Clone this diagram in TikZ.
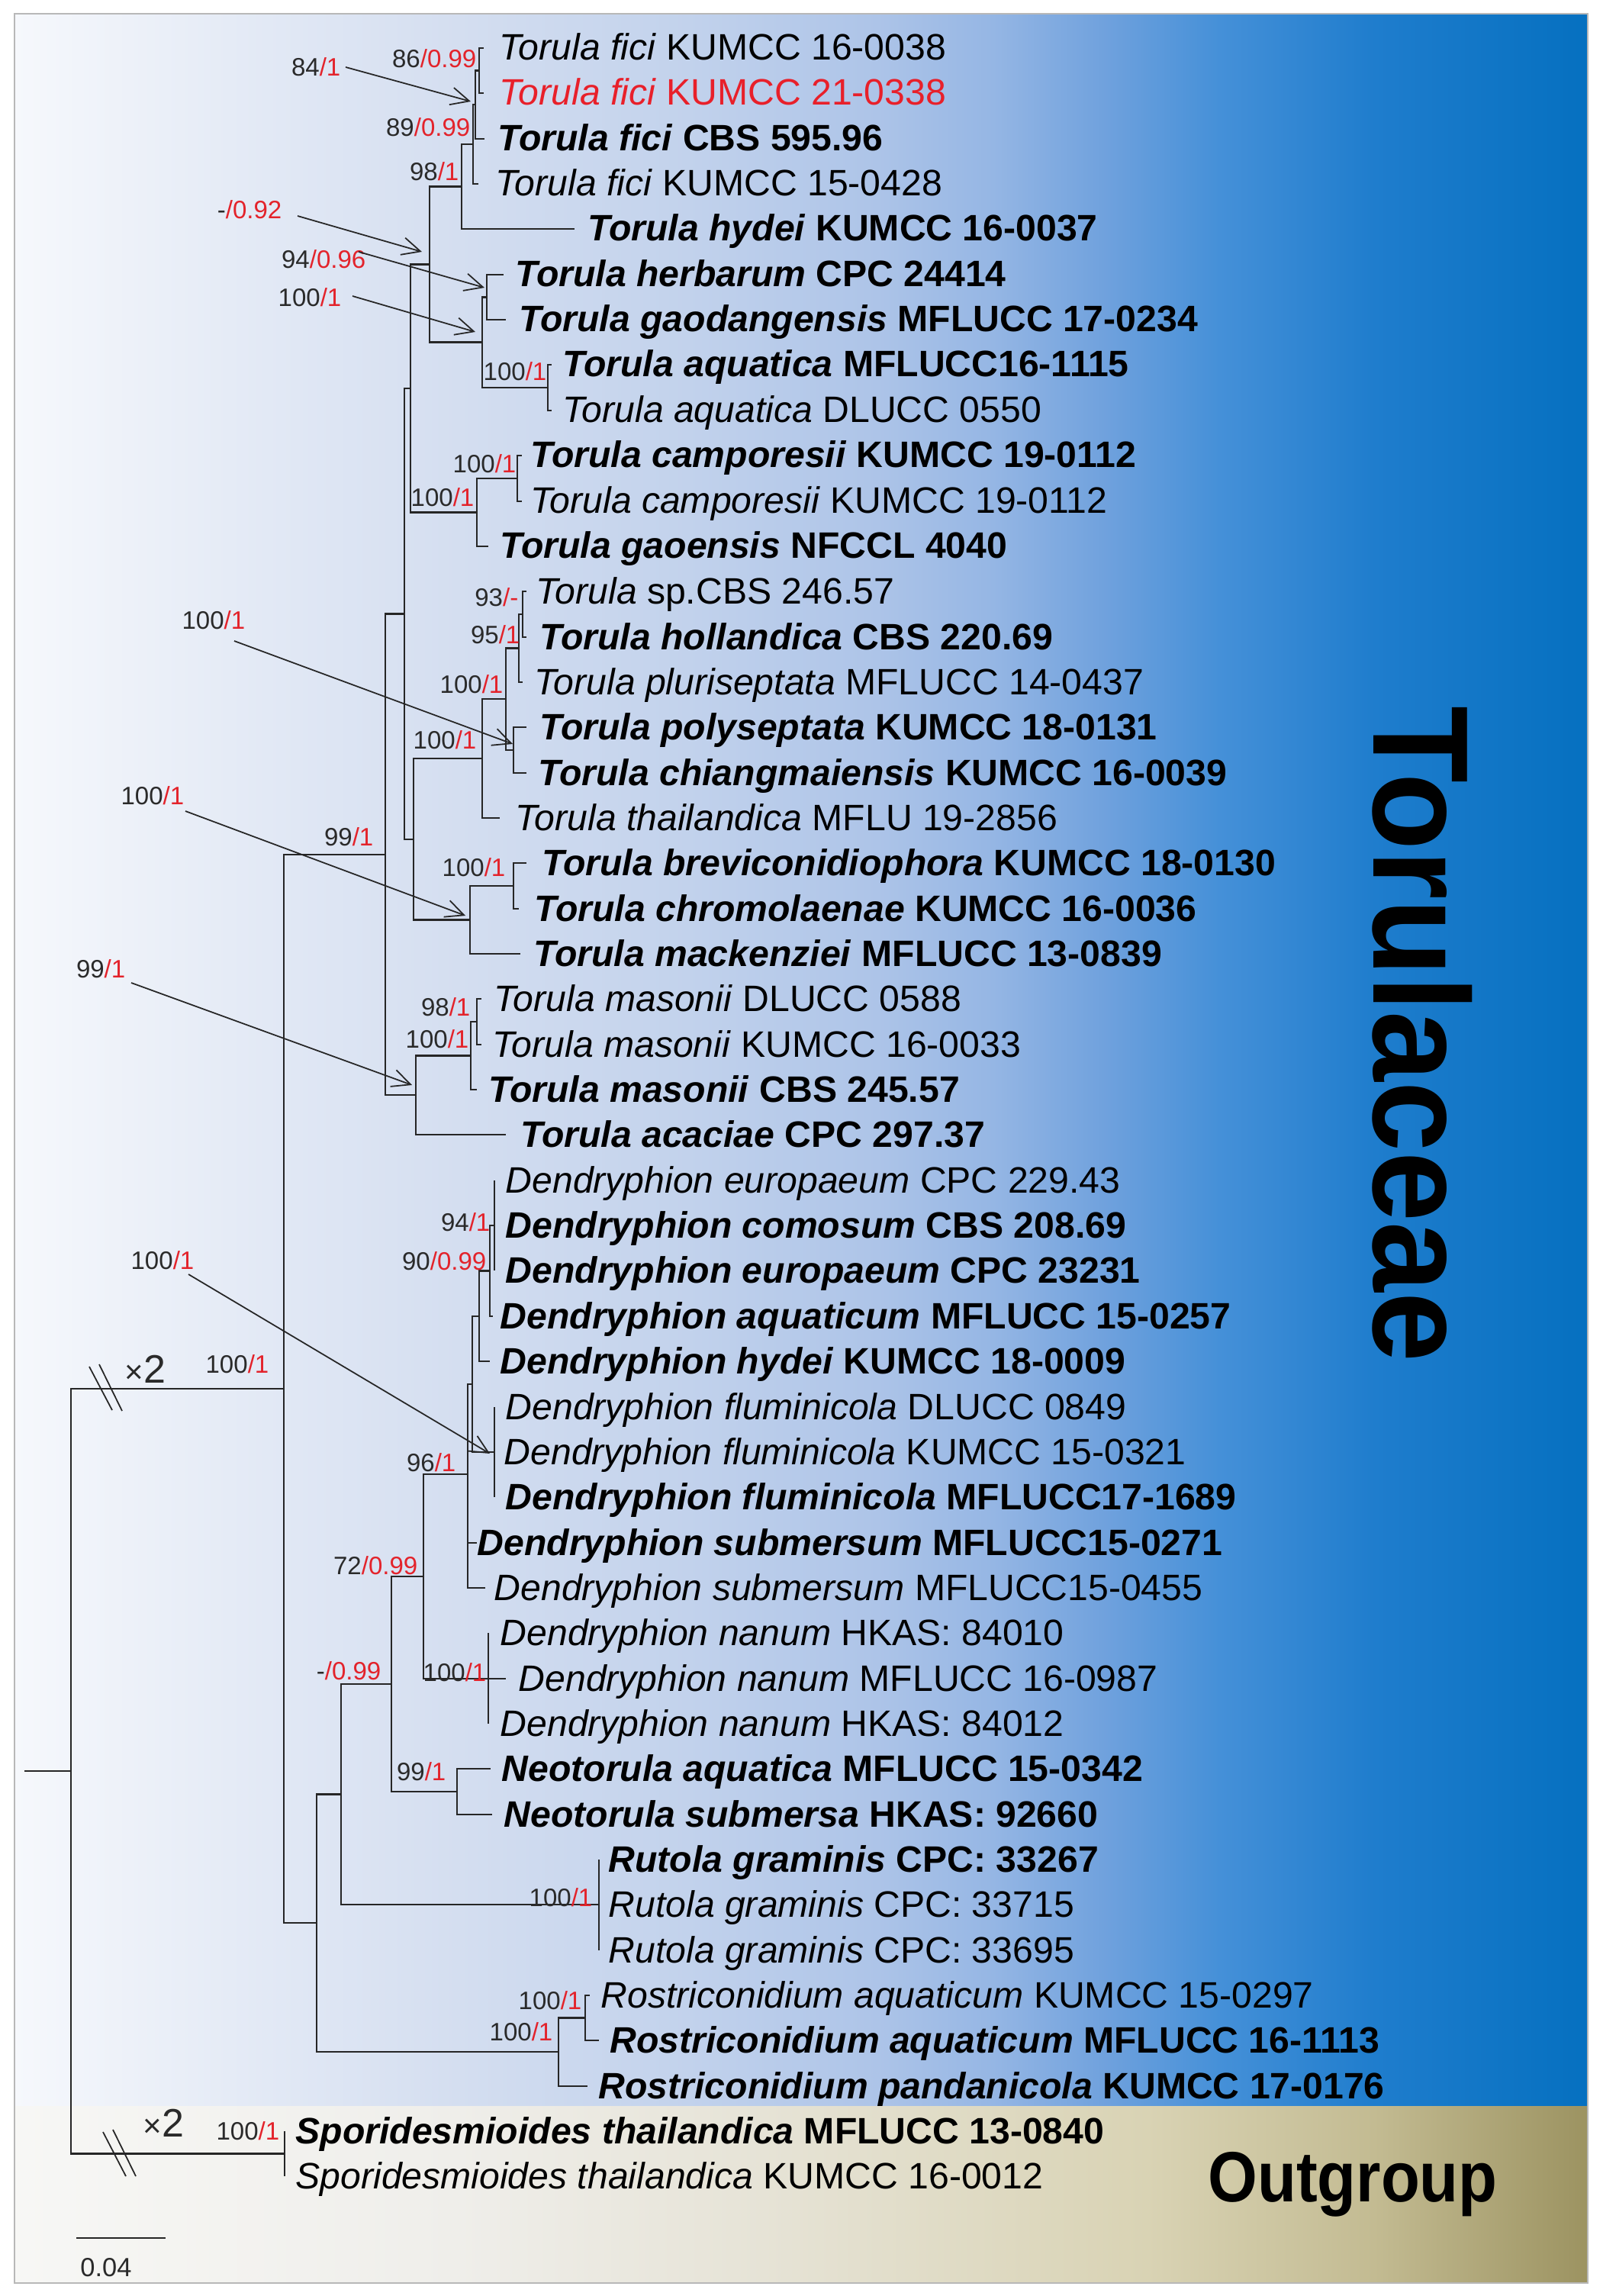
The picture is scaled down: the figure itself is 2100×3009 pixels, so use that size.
\documentclass[tikz,border=0pt]{standalone}
\usepackage{fontspec}
\setmainfont{Liberation Sans}
\usepackage{graphicx}
\usetikzlibrary{arrows.meta,calc}

\definecolor{linec}{HTML}{262626}
\definecolor{supred}{HTML}{E3232B}
\definecolor{supgray}{HTML}{2A2A2A}
\definecolor{redtx}{HTML}{E8202A}
\definecolor{frm}{HTML}{B8B8B8}
% blue background stops
\definecolor{ba}{HTML}{F6F8FC}
\definecolor{bb}{HTML}{E5EBF6}
\definecolor{bc}{HTML}{D4DEF0}
\definecolor{bd}{HTML}{C2D2EC}
\definecolor{be}{HTML}{ADC4E8}
\definecolor{bf}{HTML}{95B6E4}
\definecolor{bg}{HTML}{6FA1DD}
\definecolor{bh}{HTML}{4590D8}
\definecolor{bi}{HTML}{1F7DCD}
\definecolor{bj}{HTML}{0570C0}
% khaki background stops
\definecolor{ka}{HTML}{F7F7F5}
\definecolor{kb}{HTML}{EFEEEA}
\definecolor{kc}{HTML}{E6E3D6}
\definecolor{kd}{HTML}{D9D3B4}
\definecolor{ke}{HTML}{C3BB92}
\definecolor{kf}{HTML}{9C9361}

\pgfdeclarehorizontalshading{blueshade}{100bp}{color(0bp)=(ba); color(25bp)=(ba); color(31.8bp)=(bb); color(39.1bp)=(bc); color(46.4bp)=(bd); color(52.4bp)=(be); color(56.1bp)=(bf); color(59.7bp)=(bg); color(63.3bp)=(bh); color(68.2bp)=(bi); color(75bp)=(bj); color(100bp)=(bj)}
\pgfdeclarehorizontalshading{khakishade}{100bp}{color(0bp)=(ka); color(25bp)=(ka); color(39.1bp)=(kb); color(48.8bp)=(kc); color(61bp)=(kd); color(68.2bp)=(ke); color(75bp)=(kf); color(100bp)=(kf)}

\newcommand\txf{\fontsize{13.7}{16}\selectfont}
\newcommand\spf{\fontsize{9.4}{11}\selectfont}
\newcommand\suppv[2]{#1\textcolor{supred}{/#2}}
\newcommand\taxon[2]{\textit{#1} #2}
\newcommand\btaxon[2]{\bfseries\textit{#1} #2}
\newcommand\timestwo{{\fontsize{12}{14}\selectfont ×}{\fontsize{14.8}{16}\selectfont 2}}

\begin{document}
\begin{tikzpicture}[x=0.1mm, y=-0.1mm,
  br/.style={line width=0.7pt, draw=linec},
  tx/.style={inner sep=0pt, anchor=base west, font=\txf, text=black},
  sup/.style={inner sep=0pt, anchor=east, font=\spf, text=supgray},
  arr/.style={line width=0.5pt, draw=linec, -{Straight Barb[length=2.4mm, width=2.3mm]}},
  brk/.style={line width=0.5pt, draw=linec}]

% ---------- background ----------
\useasboundingbox (0,0) rectangle (2100,3009);
\fill[white] (0,0) rectangle (2100,3009);
\shade[shading=blueshade] (19,18) rectangle (2081,2760);
\shade[shading=khakishade] (19,2760) rectangle (2081,2992);
\draw[frm, line width=0.5pt] (19,18) rectangle (2081,2992);

% ---------- tips ----------
\coordinate (t1) at (634,63);
\coordinate (t2) at (634,122);
\coordinate (t3) at (635,182);
\coordinate (t4) at (627,241);
\coordinate (t5) at (753,300);
\coordinate (t6) at (660,360);
\coordinate (t7) at (663,419);
\coordinate (t8) at (723,478);
\coordinate (t9) at (723,538);
\coordinate (t10) at (684,597);
\coordinate (t11) at (684,657);
\coordinate (t12) at (640,716);
\coordinate (t13) at (690,775);
\coordinate (t14) at (690,835);
\coordinate (t15) at (685,894);
\coordinate (t16) at (690,953);
\coordinate (t17) at (690,1013);
\coordinate (t18) at (655,1072);
\coordinate (t19) at (690,1131);
\coordinate (t20) at (680,1191);
\coordinate (t21) at (682,1250);
\coordinate (t22) at (631,1309);
\coordinate (t23) at (631,1369);
\coordinate (t24) at (625,1428);
\coordinate (t25) at (663,1487);
\coordinate (t26) at (648,1547);
\coordinate (t27) at (648,1606);
\coordinate (t28) at (648,1665);
\coordinate (t29) at (646,1725);
\coordinate (t30) at (642,1784);
\coordinate (t31) at (648,1844);
\coordinate (t32) at (648,1903);
\coordinate (t33) at (648,1962);
\coordinate (t34) at (625,2022);
\coordinate (t35) at (636,2081);
\coordinate (t36) at (640,2140);
\coordinate (t37) at (663,2200);
\coordinate (t38) at (640,2259);
\coordinate (t39) at (643,2318);
\coordinate (t40) at (645,2378);
\coordinate (t41) at (785,2437);
\coordinate (t42) at (785,2496);
\coordinate (t43) at (785,2556);
\coordinate (t44) at (773,2615);
\coordinate (t45) at (785,2674);
\coordinate (t46) at (770,2734);
\coordinate (t47) at (373,2793);
\coordinate (t48) at (373,2852);

% ---------- internal nodes ----------
\coordinate (n12) at (628,92.5);
\coordinate (n13) at (623,137);
\coordinate (n14) at (620,189);
\coordinate (n15) at (605,244.5);
\coordinate (n67) at (638,389.5);
\coordinate (n89) at (718,508);
\coordinate (n69) at (632,448.7);
\coordinate (nX) at (563,346.6);
\coordinate (n1011) at (678,627);
\coordinate (n1012) at (625,671.5);
\coordinate (nY) at (538,509);
\coordinate (n1314) at (685,805);
\coordinate (n1315) at (680,849.5);
\coordinate (n1617) at (673,983);
\coordinate (nP) at (663,916);
\coordinate (nQ) at (632,994);
\coordinate (n1920) at (673,1161);
\coordinate (n1921) at (616,1205.5);
\coordinate (nW) at (542,1100);
\coordinate (nZ) at (530,804.5);
\coordinate (n2223) at (625,1339);
\coordinate (n2224) at (617,1383.5);
\coordinate (n2225) at (545,1435);
\coordinate (nV) at (505,1120);
\coordinate (n2628) at (648,1606);
\coordinate (n2629) at (642,1665.5);
\coordinate (n2630) at (628,1725);
\coordinate (n3133) at (648,1903);
\coordinate (n2633) at (619,1814);
\coordinate (n96) at (613,1932);
\coordinate (n3638) at (640,2200);
\coordinate (n72) at (555,2066);
\coordinate (n3940) at (599,2348);
\coordinate (n513) at (513,2207);
\coordinate (n4143) at (785,2496);
\coordinate (n447) at (447,2351.5);
\coordinate (n4445) at (767,2644.5);
\coordinate (n4446) at (732,2689);
\coordinate (n415) at (415,2520);
\coordinate (nU) at (372,1820);
\coordinate (n4748) at (373,2822.5);
\coordinate (root) at (93,2321);
\coordinate (rstub) at (32,2321);

% ---------- branches ----------
\foreach \p/\c in {n12/t1,n12/t2,n13/n12,n13/t3,n14/n13,n14/t4,n15/n14,n15/t5,
  n67/t6,n67/t7,n89/t8,n89/t9,n69/n67,n69/n89,nX/n15,nX/n69,
  n1011/t10,n1011/t11,n1012/n1011,n1012/t12,nY/nX,nY/n1012,
  n1314/t13,n1314/t14,n1315/n1314,n1315/t15,n1617/t16,n1617/t17,
  nP/n1315,nP/n1617,nQ/nP,nQ/t18,n1920/t19,n1920/t20,n1921/n1920,n1921/t21,
  nW/nQ,nW/n1921,nZ/nY,nZ/nW,n2223/t22,n2223/t23,n2224/n2223,n2224/t24,
  n2225/n2224,n2225/t25,nV/nZ,nV/n2225,
  n2628/t26,n2628/t27,n2628/t28,n2629/n2628,n2629/t29,n2630/n2629,n2630/t30,
  n3133/t31,n3133/t32,n3133/t33,n2633/n2630,n2633/n3133,
  n96/n2633,n96/t34,n96/t35,n3638/t36,n3638/t37,n3638/t38,n72/n96,n72/n3638,
  n3940/t39,n3940/t40,n513/n72,n513/n3940,n4143/t41,n4143/t42,n4143/t43,
  n447/n513,n447/n4143,n4445/t44,n4445/t45,n4446/n4445,n4446/t46,
  n415/n447,n415/n4446,nU/nV,nU/n415,n4748/t47,n4748/t48,root/nU,root/n4748}
  \draw[br] (\p) |- (\c);
\draw[br] (rstub) -- (root);

% ---------- branch breaks ----------
\coordinate (k1a) at (117,1791); \coordinate (k1b) at (147,1848);
\coordinate (k2a) at (130,1788); \coordinate (k2b) at (160,1849);
\coordinate (k3a) at (135,2794); \coordinate (k3b) at (165,2852);
\coordinate (k4a) at (148,2791); \coordinate (k4b) at (178,2852);
\draw[brk] (k1a) -- (k1b);
\draw[brk] (k2a) -- (k2b);
\draw[brk] (k3a) -- (k3b);
\draw[brk] (k4a) -- (k4b);
\node[inner sep=0pt, anchor=base west, text=supgray] (x2a) at (163,1812) {\timestwo};
\node[inner sep=0pt, anchor=base west, text=supgray] (x2b) at (187,2800) {\timestwo};

% ---------- support values on branches ----------
\node[sup] (s1) at (625,77) {\suppv{86}{0.99}};
\node[sup] (s3) at (617,167) {\suppv{89}{0.99}};
\node[sup] (s4) at (602,225) {\suppv{98}{1}};
\node[sup] (s8) at (717,487) {\suppv{100}{1}};
\node[sup] (s9) at (677,608) {\suppv{100}{1}};
\node[sup] (s10) at (622,652) {\suppv{100}{1}};
\node[sup] (s11) at (680,783) {\suppv{93}{-}};
\node[sup] (s12) at (682,832) {\suppv{95}{1}};
\node[sup] (s13) at (660,897) {\suppv{100}{1}};
\node[sup] (s14) at (625,970) {\suppv{100}{1}};
\node[sup] (s17) at (490,1097) {\suppv{99}{1}};
\node[sup] (s18) at (663,1137) {\suppv{100}{1}};
\node[sup] (s19) at (617,1320) {\suppv{98}{1}};
\node[sup] (s20) at (615,1362) {\suppv{100}{1}};
\node[sup] (s22) at (643,1602) {\suppv{94}{1}};
\node[sup] (s23) at (638,1653) {\suppv{90}{0.99}};
\node[sup] (s25) at (353,1788) {\suppv{100}{1}};
\node[sup] (s26) at (598,1917) {\suppv{96}{1}};
\node[sup] (s27) at (548,2052) {\suppv{72}{0.99}};
\node[sup] (s28) at (638,2192) {\suppv{100}{1}};
\node[sup] (s29) at (500,2190) {\suppv{-}{0.99}};
\node[sup] (s30) at (585,2322) {\suppv{99}{1}};
\node[sup] (s31) at (777,2487) {\suppv{100}{1}};
\node[sup] (s32) at (763,2622) {\suppv{100}{1}};
\node[sup] (s33) at (725,2663) {\suppv{100}{1}};
\node[sup] (s34) at (367,2793) {\suppv{100}{1}};

% ---------- support values with arrows ----------
\node[sup] (a1) at (447,88) {\suppv{84}{1}};
\node[sup] (a2) at (370,275) {\suppv{-}{0.92}};
\node[sup] (a3) at (480,340) {\suppv{94}{0.96}};
\node[sup] (a4) at (448,390) {\suppv{100}{1}};
\node[sup] (a5) at (322,813) {\suppv{100}{1}};
\node[sup] (a6) at (242,1043) {\suppv{100}{1}};
\node[sup] (a7) at (165,1270) {\suppv{99}{1}};
\node[sup] (a8) at (255,1652) {\suppv{100}{1}};
\coordinate (as1) at (453,88);   \coordinate (ae1) at (617,133);
\coordinate (as2) at (390,283);  \coordinate (ae2) at (553,330);
\coordinate (as3) at (470,330);  \coordinate (ae3) at (635,377);
\coordinate (as4) at (462,388);  \coordinate (ae4) at (623,435);
\coordinate (as5) at (307,840);  \coordinate (ae5) at (672,975);
\coordinate (as6) at (243,1063); \coordinate (ae6) at (610,1200);
\coordinate (as7) at (172,1288); \coordinate (ae7) at (540,1422);
\coordinate (as8) at (247,1670); \coordinate (ae8) at (642,1905);
\foreach \i in {1,...,8} \draw[arr] (as\i) -- (ae\i);

% ---------- taxa ----------
\node[tx] (L1) at (654,79) {\taxon{Torula fici}{KUMCC 16-0038}};
\node[tx, text=redtx] (L2) at (654,138) {\taxon{Torula fici}{KUMCC 21-0338}};
\node[tx] (L3) at (652,198) {\btaxon{Torula fici}{CBS 595.96}};
\node[tx] (L4) at (649,257) {\taxon{Torula fici}{KUMCC 15-0428}};
\node[tx] (L5) at (770,316) {\btaxon{Torula hydei}{KUMCC 16-0037}};
\node[tx] (L6) at (675,376) {\btaxon{Torula herbarum}{CPC 24414}};
\node[tx] (L7) at (680,435) {\btaxon{Torula gaodangensis}{MFLUCC 17-0234}};
\node[tx] (L8) at (737,494) {\btaxon{Torula aquatica}{MFLUCC16-1115}};
\node[tx] (L9) at (737,554) {\taxon{Torula aquatica}{DLUCC 0550}};
\node[tx] (L10) at (695,613) {\btaxon{Torula camporesii}{KUMCC 19-0112}};
\node[tx] (L11) at (695,673) {\taxon{Torula camporesii}{KUMCC 19-0112}};
\node[tx] (L12) at (655,732) {\btaxon{Torula gaoensis}{NFCCL 4040}};
\node[tx] (L13) at (702,791) {\taxon{Torula}{sp.CBS 246.57}};
\node[tx] (L14) at (707,851) {\btaxon{Torula hollandica}{CBS 220.69}};
\node[tx] (L15) at (700,910) {\taxon{Torula pluriseptata}{MFLUCC 14-0437}};
\node[tx] (L16) at (707,969) {\btaxon{Torula polyseptata}{KUMCC 18-0131}};
\node[tx] (L17) at (705,1029) {\btaxon{Torula chiangmaiensis}{KUMCC 16-0039}};
\node[tx] (L18) at (675,1088) {\taxon{Torula thailandica}{MFLU 19-2856}};
\node[tx] (L19) at (710,1147) {\btaxon{Torula breviconidiophora}{KUMCC 18-0130}};
\node[tx] (L20) at (700,1207) {\btaxon{Torula chromolaenae}{KUMCC 16-0036}};
\node[tx] (L21) at (699,1266) {\btaxon{Torula mackenziei}{MFLUCC 13-0839}};
\node[tx] (L22) at (647,1325) {\taxon{Torula masonii}{DLUCC 0588}};
\node[tx] (L23) at (645,1385) {\taxon{Torula masonii}{KUMCC 16-0033}};
\node[tx] (L24) at (640,1444) {\btaxon{Torula masonii}{CBS 245.57}};
\node[tx] (L25) at (682,1503) {\btaxon{Torula acaciae}{CPC 297.37}};
\node[tx] (L26) at (662,1563) {\taxon{Dendryphion europaeum}{CPC 229.43}};
\node[tx] (L27) at (662,1622) {\btaxon{Dendryphion comosum}{CBS 208.69}};
\node[tx] (L28) at (662,1681) {\btaxon{Dendryphion europaeum}{CPC 23231}};
\node[tx] (L29) at (655,1741) {\btaxon{Dendryphion aquaticum}{MFLUCC 15-0257}};
\node[tx] (L30) at (655,1800) {\btaxon{Dendryphion hydei}{KUMCC 18-0009}};
\node[tx] (L31) at (662,1860) {\taxon{Dendryphion fluminicola}{DLUCC 0849}};
\node[tx] (L32) at (660,1919) {\taxon{Dendryphion fluminicola}{KUMCC 15-0321}};
\node[tx] (L33) at (662,1978) {\btaxon{Dendryphion fluminicola}{MFLUCC17-1689}};
\node[tx] (L34) at (625,2038) {\btaxon{Dendryphion submersum}{MFLUCC15-0271}};
\node[tx] (L35) at (647,2097) {\taxon{Dendryphion submersum}{MFLUCC15-0455}};
\node[tx] (L36) at (655,2156) {\taxon{Dendryphion nanum}{HKAS: 84010}};
\node[tx] (L37) at (679,2216) {\taxon{Dendryphion nanum}{MFLUCC 16-0987}};
\node[tx] (L38) at (655,2275) {\taxon{Dendryphion nanum}{HKAS: 84012}};
\node[tx] (L39) at (657,2334) {\btaxon{Neotorula aquatica}{MFLUCC 15-0342}};
\node[tx] (L40) at (660,2394) {\btaxon{Neotorula submersa}{HKAS: 92660}};
\node[tx] (L41) at (797,2453) {\btaxon{Rutola graminis}{CPC: 33267}};
\node[tx] (L42) at (797,2512) {\taxon{Rutola graminis}{CPC: 33715}};
\node[tx] (L43) at (797,2572) {\taxon{Rutola graminis}{CPC: 33695}};
\node[tx] (L44) at (787,2631) {\taxon{Rostriconidium aquaticum}{KUMCC 15-0297}};
\node[tx] (L45) at (799,2690) {\btaxon{Rostriconidium aquaticum}{MFLUCC 16-1113}};
\node[tx] (L46) at (784,2750) {\btaxon{Rostriconidium pandanicola}{KUMCC 17-0176}};
\node[tx] (L47) at (387,2809) {\btaxon{Sporidesmioides thailandica}{MFLUCC 13-0840}};
\node[tx] (L48) at (387,2868) {\taxon{Sporidesmioides thailandica}{KUMCC 16-0012}};

% ---------- group labels ----------
\node[inner sep=0pt, anchor=base, rotate=-90, font=\fontsize{47}{50}\selectfont\bfseries] (grp1) at (1800,1355) {\scalebox{1}[1.08]{Torulaceae}};
\node[inner sep=0pt, anchor=base, font=\fontsize{23.7}{26}\selectfont\bfseries] (grp2) at (1773,2885) {\scalebox{1}[1.12]{Outgroup}};

% ---------- scale bar ----------
\coordinate (sb1) at (100,2933);
\coordinate (sb2) at (217,2933);
\draw[br] (sb1) -- (sb2);
\node[inner sep=0pt, font=\fontsize{9.8}{11}\selectfont, text=supgray] (sbl) at (139,2972) {0.04};

\end{tikzpicture}
\end{document}
